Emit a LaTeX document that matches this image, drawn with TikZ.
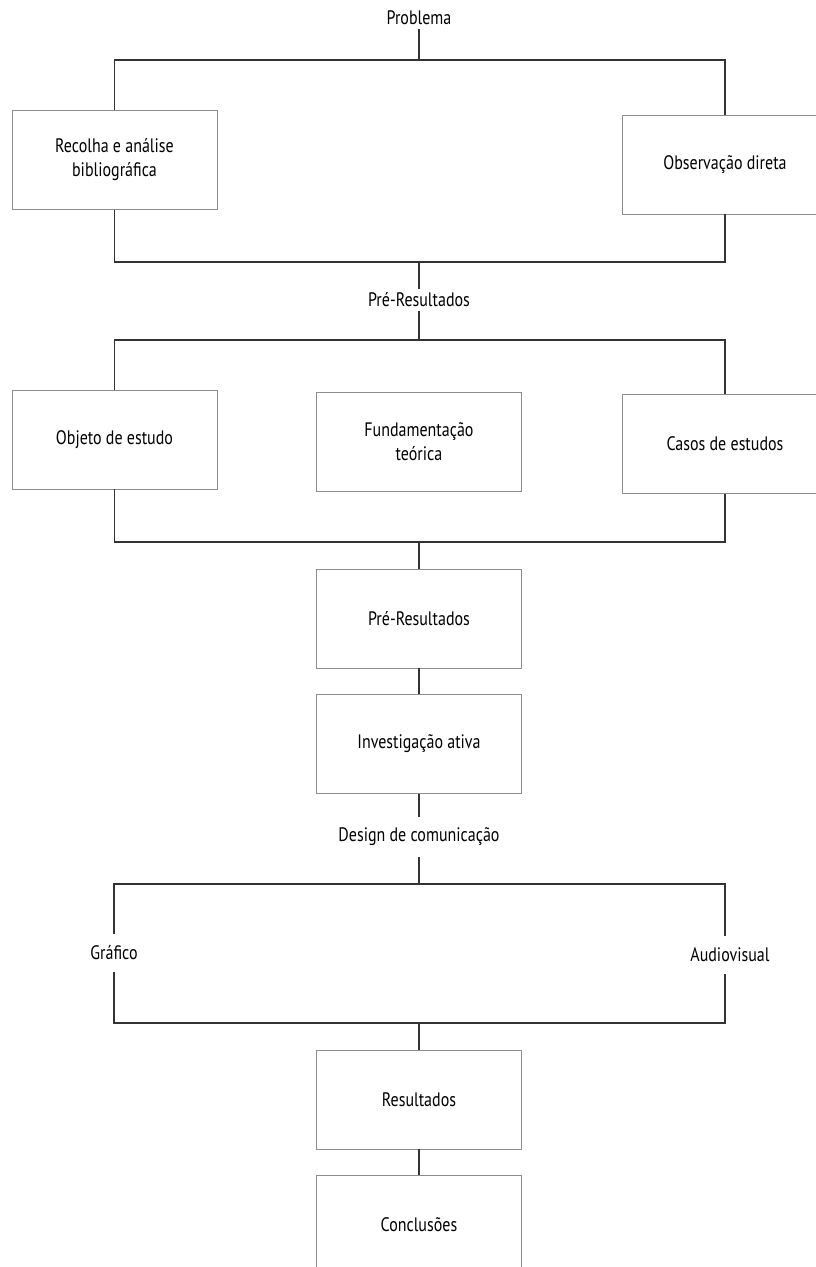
\documentclass[tikz,border=0pt]{standalone}
\usepackage{fontspec}
\setmainfont{PT Sans}[FakeStretch=0.82]
\begin{document}
\begin{tikzpicture}[x=1pt,y=-1pt,
  box/.style={draw=black!45,line width=0.9pt,minimum width=205pt,minimum height=99pt,align=center,font=\fontsize{19.5}{24}\selectfont},
  lbl/.style={inner xsep=2pt,inner ysep=4pt,font=\fontsize{19.5}{24}\selectfont},
  conn/.style={draw=black!80,line width=1.2pt}]
\useasboundingbox (0,0) rectangle (815,1267);
% group 1
\node[lbl] (prob) at (419,18) {Problema};
\node[box] (b1) at (114.5,160) {Recolha e análise\\bibliográfica};
\node[box] (b2) at (725,164.5) {Observação direta};
\coordinate (g1t) at (419,60);
\coordinate (g1b) at (419,262);
\draw[conn] (b1.north) |- (g1t) -| (b2.north);
\draw[conn] (prob) -- (g1t);
\draw[conn] (b1.south) |- (g1b) -| (b2.south);
% group 2
\node[lbl] (pre1) at (419,300) {Pré-Resultados};
\draw[conn] (g1b) -- (pre1);
\node[box] (c1) at (114.5,439.5) {Objeto de estudo};
\node[box] (c2) at (419,441.5) {Fundamentação\\teórica};
\node[box] (c3) at (725,444) {Casos de estudos};
\coordinate (g2t) at (419,340);
\coordinate (g2b) at (419,542);
\draw[conn] (c1.north) |- (g2t) -| (c3.north);
\draw[conn] (pre1) -- (g2t);
\draw[conn] (c1.south) |- (g2b) -| (c3.south);
% chain
\node[box] (pre2) at (419,618.5) {Pré-Resultados};
\node[box] (inv) at (419,744) {Investigação ativa};
\node[lbl,inner ysep=11pt] (design) at (419,837) {Design de comunicação};
\draw[conn] (g2b) -- (pre2);
\draw[conn] (pre2) -- (inv);
\draw[conn] (inv) -- (design);
% group 3
\coordinate (g3t) at (419,884);
\coordinate (g3b) at (419,1023);
\coordinate (g3tl) at (114,884);
\coordinate (g3tr) at (725,884);
\coordinate (g3bl) at (114,1023);
\coordinate (g3br) at (725,1023);
\node[lbl,inner ysep=12pt] (graf) at (114,953) {Gráfico};
\node[lbl,inner ysep=12pt] (aud) at (730,955) {Audiovisual};
\draw[conn] (design) -- (g3t);
\draw[conn] (g3tl |- graf.north) -- (g3tl) -- (g3tr) -- (g3tr |- aud.north);
\draw[conn] (g3bl |- graf.south) -- (g3bl) -- (g3br) -- (g3br |- aud.south);
% final chain
\node[box] (res) at (419,1099.5) {Resultados};
\node[box] (conc) at (419,1225) {Conclusões};
\draw[conn] (g3b) -- (res);
\draw[conn] (res) -- (conc);
\end{tikzpicture}
\end{document}
